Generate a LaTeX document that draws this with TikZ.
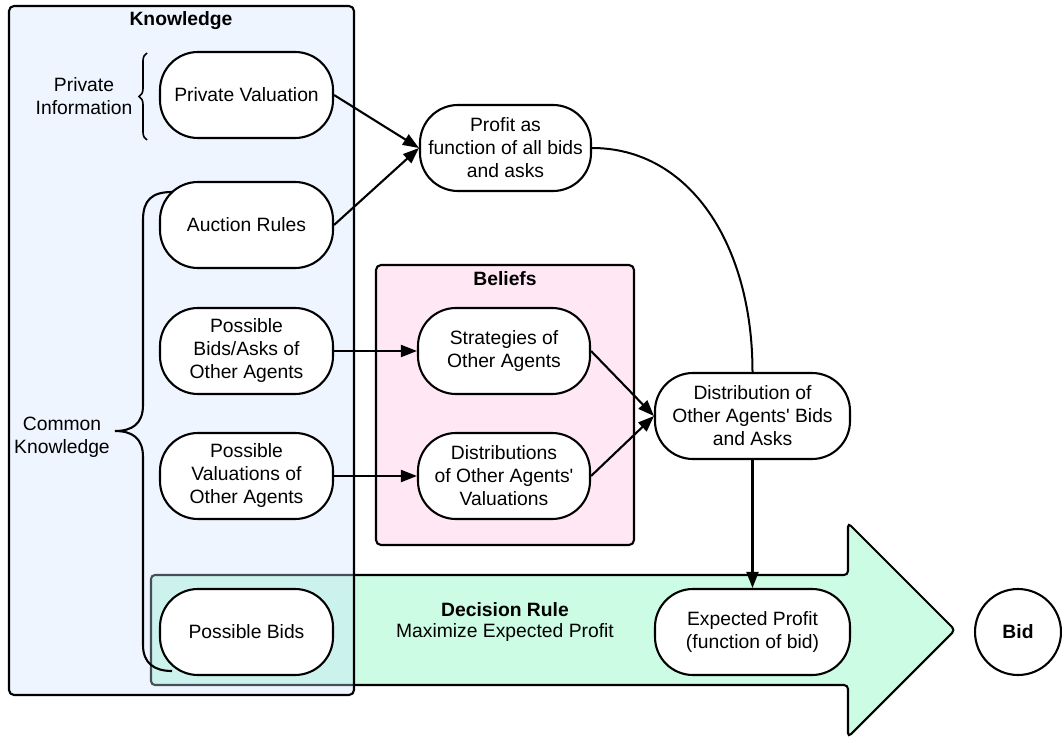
\documentclass[tikz,border=0pt]{standalone}
\usepackage{fontspec}
\setmainfont{Liberation Sans}
\usetikzlibrary{arrows.meta,decorations.pathreplacing}
\definecolor{kblue}{RGB}{205,226,255}
\definecolor{bpink}{RGB}{255,232,244}
\definecolor{mint}{RGB}{204,252,228}
\begin{document}
\begin{tikzpicture}[x=1pt,y=-1pt,
  every node/.style={font=\fontsize{19.3}{23}\selectfont, align=center, text=black},
  pill/.style={draw, line width=2.1pt, fill=white, rounded corners=38pt, minimum width=173pt, minimum height=86pt, inner sep=2pt},
  wide/.style={pill, minimum width=195pt},
  conn/.style={line width=2.1pt, -{Triangle[length=16pt,width=12pt]}},
  lbl/.style={font=\fontsize{19.3}{23}\selectfont\bfseries}
]
\useasboundingbox (0,0) rectangle (1062,738);

% big decision arrow
\draw[line width=2.1pt, fill=mint, rounded corners=4pt]
  (151,575) -- (848,575) -- (848,523) -- (955,630) -- (848,737) -- (848,685) -- (151,685) -- cycle;

% knowledge box
\draw[line width=2.1pt, fill=kblue, fill opacity=0.35, rounded corners=5pt] (9,6) rectangle (354,695);
\node[lbl] (klab) at (181,21) {Knowledge};

% beliefs box
\draw[line width=2.1pt, fill=bpink, rounded corners=5pt] (376,265) rectangle (634,545);
\node[lbl] (blab) at (505,279) {Beliefs};

% nodes
\node[pill] (pv) at (246.5,95) {Private Valuation};
\node[pill] (ar) at (246.5,225) {Auction Rules};
\node[pill] (pba) at (246.5,351) {Possible\\Bids/Asks of\\Other Agents};
\node[pill] (pvo) at (246.5,476) {Possible\\Valuations of\\Other Agents};
\node[pill] (pb) at (246.5,632) {Possible Bids};

\node[pill, minimum width=171pt] (profit) at (505.5,148) {Profit as\\function of all bids\\and asks};
\node[pill, minimum width=172pt] (strat) at (504,351) {Strategies of\\Other Agents};
\node[pill, minimum width=172pt] (distv) at (504,476) {Distributions\\of Other Agents\textquotesingle\\Valuations};
\node[wide] (dist) at (752.5,416) {Distribution of\\Other Agents\textquotesingle{} Bids\\and Asks};
\node[wide] (exp) at (752.5,632) {Expected Profit\\(function of bid)};

\node[draw, circle, line width=2.1pt, fill=white, minimum size=86pt, inner sep=0pt, font=\fontsize{19.3}{23}\selectfont\bfseries] (bid) at (1018,632) {Bid};

\node (dr) at (505,610) {\textbf{Decision Rule}};
\node (mx) at (505,633) {Maximize Expected Profit};

% labels + braces
\node (pi) at (84,96) {Private\\Information};
\node (ck) at (62,437) {Common\\Knowledge};
\draw[line width=1.6pt, decorate, decoration={brace, amplitude=8pt}] (147,140) -- (147,53);
\coordinate (cktop) at (172,192);
\coordinate (ckbot) at (172,671);
\draw[line width=2.1pt] (cktop) .. controls (152,192) and (143,200) .. (143,220) -- (143,405)
  .. controls (143,424) and (132,431) .. (115,431)
  .. controls (132,431) and (143,438) .. (143,457) -- (143,645)
  .. controls (143,663) and (154,671) .. (ckbot);

% connectors
\draw[conn] (pv.east) -- (profit.west);
\draw[conn] (ar.east) -- (profit.west);
\draw[conn] (pba.east) -- (strat.west);
\draw[conn] (pvo.east) -- (distv.west);
\draw[conn] (strat.east) -- (dist.west);
\draw[conn] (distv.east) -- (dist.west);
\draw[line width=2pt] (profit.east) .. controls (690,148) and (752.5,245) .. (dist.north);
\draw[conn] (dist.south) -- (exp.north);
\end{tikzpicture}
\end{document}
